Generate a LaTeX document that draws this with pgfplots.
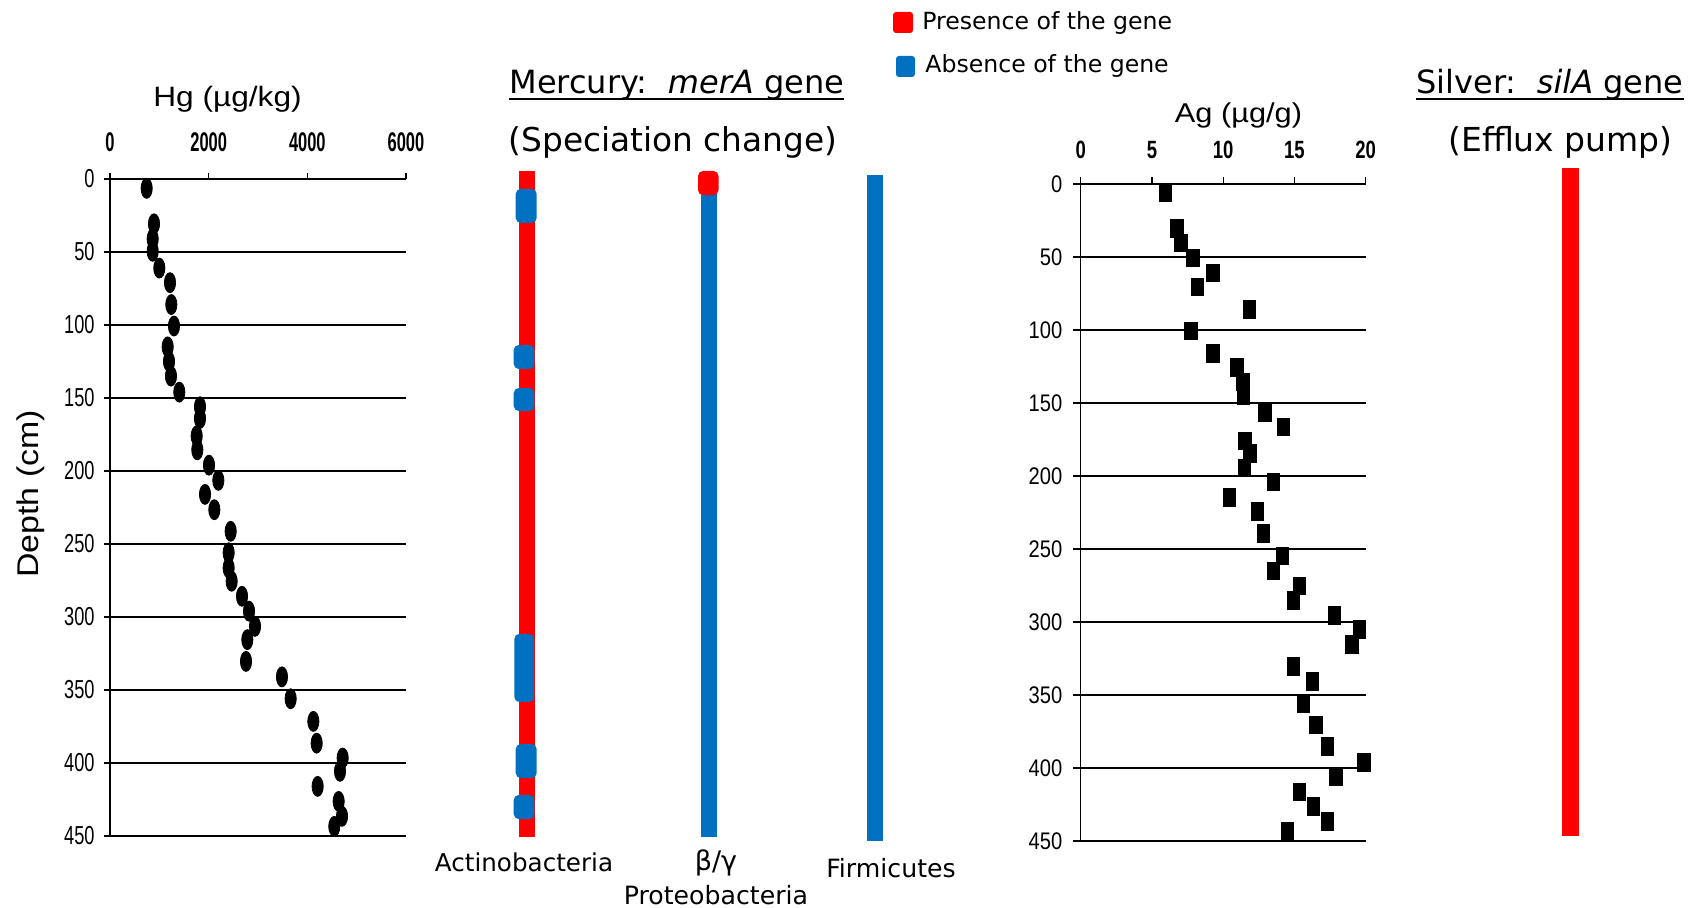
\documentclass[border=0pt]{standalone}
\usepackage{pgfplots}
\pgfplotsset{compat=1.18}
\usepackage{fontspec}
\setmainfont{DejaVu Sans}
\newfontfamily\tah{DejaVu Sans}
\newfontfamily\arialW{Liberation Sans}[FakeStretch=1.13]
\newfontfamily\hgy{Liberation Sans}[FakeStretch=0.7]
\newfontfamily\hgx{Liberation Sans}[FakeStretch=0.61]
\newfontfamily\agx{Liberation Sans}[FakeStretch=0.74]
\newfontfamily\agy{Liberation Sans}[FakeStretch=0.84]
\definecolor{gred}{RGB}{255,0,0}
\definecolor{gblue}{RGB}{0,112,192}
\newcommand{\fs}[1]{\fontsize{#1}{#1}\selectfont}
\begin{document}
\begin{tikzpicture}
\begin{scope}[x=0.5pt,y=-0.5pt]
\useasboundingbox (0,0) rectangle (1690,908);
\end{scope}

% ---------------- Hg profile ----------------
\begin{axis}[
  at={(55pt,-89.5pt)}, anchor=north west,
  scale only axis, width=148pt, height=328.5pt,
  xmin=0, xmax=6000, ymin=0, ymax=450, y dir=reverse,
  axis x line=top, axis y line=left,
  axis line style={-, line width=0.7pt, black},
  xtick={0,2000,4000,6000}, ytick={0,50,...,450},
  tick align=outside, major tick length=3pt,
  tick style={line width=0.7pt, black},
  ymajorgrids, grid style={line width=0.65pt, black},
  scaled x ticks=false,
  /pgf/number format/assume math mode=true,
  /pgf/number format/set thousands separator={},
  xticklabel style={font=\hgx\bfseries\fs{13.5pt}, anchor=center, inner sep=0pt},
  xticklabel shift=15.25pt,
  yticklabel style={font=\hgy\fs{13pt}, anchor=east, inner sep=0pt},
  yticklabel shift=4.5pt,
]
\addplot[only marks, mark=*, mark size=5pt, mark options={xscale=0.56, fill=black, draw=black}] coordinates {
(743,6.4) (892,30.7) (865,41) (865,49.5) (1000,61) (1216,71) (1243,86) (1297,100.7)
(1169,115) (1196,125) (1236,135) (1405,146) (1824,156) (1824,164) (1757,176) (1770,185.5)
(2007,196) (2196,206.4) (1926,216) (2115,226.5) (2446,241.3) (2405,256) (2405,266.4)
(2466,275.5) (2676,285.8) (2818,296) (2939,306.4) (2784,315.5) (2757,330.4) (3486,341)
(3662,356) (4122,371.5) (4189,386.4) (4716,396.6) (4662,405.7) (4209,416) (4635,426.3)
(4703,436.5) (4547,443.4)};
\end{axis}

% ---------------- Ag profile ----------------
\begin{axis}[
  at={(540.35pt,-92pt)}, anchor=north west,
  scale only axis, width=142.5pt, height=328.5pt,
  xmin=0, xmax=20, ymin=0, ymax=450, y dir=reverse,
  axis x line=top, axis y line=left,
  axis line style={-, line width=0.7pt, black},
  xtick={0,5,10,15,20}, ytick={0,50,...,450},
  tick align=outside, major tick length=3.75pt,
  tick style={line width=0.7pt, black},
  ymajorgrids, grid style={line width=0.65pt, black},
  /pgf/number format/assume math mode=true,
  xticklabel style={font=\agx\bfseries\fs{12.5pt}, anchor=center, inner sep=0pt},
  xticklabel shift=13.3pt,
  yticklabel style={font=\agy\fs{12pt}, anchor=east, inner sep=0pt},
  yticklabel shift=5.25pt,
]
\addplot[only marks, mark=square*, mark size=4.4pt, mark options={xscale=0.71, fill=black, draw=black}] coordinates {
(5.94,5.7) (6.74,30.5) (7.02,40.4) (7.86,50.7) (9.26,61) (8.19,70.6) (11.84,86) (7.72,100.5)
(9.26,116) (10.95,125.7) (11.37,135.6) (11.42,145.2) (12.94,156.6) (14.22,166.5) (11.53,176)
(11.88,184.5) (11.49,194.5) (13.52,204) (10.43,214.7) (12.4,224.3) (12.82,239.2) (14.15,254.6)
(13.52,265) (15.35,275.2) (14.92,285) (17.8,295.4) (19.56,305) (19.04,315.4) (14.92,330.5)
(16.26,340.8) (15.63,356.2) (16.5,370.6) (17.3,385.3) (19.88,396.3) (17.92,406) (15.35,416.3)
(16.33,426.1) (17.3,436.5) (14.5,443.3)};
\end{axis}

% ---------------- gene bars ----------------
\begin{axis}[
  at={(0pt,-89.5pt)}, anchor=north west,
  scale only axis, width=845pt, height=328.5pt,
  xmin=0, xmax=1690, ymin=0, ymax=450, y dir=reverse,
  hide axis, clip=false,
]
% Actinobacteria
\addplot[fill=gred, draw=none] coordinates {(519,-5.5) (535,-5.5) (535,450.7) (519,450.7)} -- cycle;
\addplot[fill=gblue, draw=none, rounded corners=2.5pt] coordinates {(515.7,6.8) (536.7,6.8) (536.7,30.1) (515.7,30.1)} -- cycle;
\addplot[fill=gblue, draw=none, rounded corners=2.5pt] coordinates {(513.7,113.7) (534.3,113.7) (534.3,130.1) (513.7,130.1)} -- cycle;
\addplot[fill=gblue, draw=none, rounded corners=2.5pt] coordinates {(513.7,143.2) (534.3,143.2) (534.3,158.9) (513.7,158.9)} -- cycle;
\addplot[fill=gblue, draw=none, rounded corners=2.5pt] coordinates {(514.3,311.6) (534,311.6) (534,358.2) (514.3,358.2)} -- cycle;
\addplot[fill=gblue, draw=none, rounded corners=2.5pt] coordinates {(515.7,387) (536.7,387) (536.7,410.3) (515.7,410.3)} -- cycle;
\addplot[fill=gblue, draw=none, rounded corners=2.5pt] coordinates {(513.7,421.9) (534.3,421.9) (534.3,438.4) (513.7,438.4)} -- cycle;
% beta/gamma Proteobacteria
\addplot[fill=gblue, draw=none] coordinates {(701,0) (717,0) (717,450.7) (701,450.7)} -- cycle;
\addplot[fill=gred, draw=none, rounded corners=2.5pt] coordinates {(698,-5.5) (718.5,-5.5) (718.5,11) (698,11)} -- cycle;
% Firmicutes
\addplot[fill=gblue, draw=none] coordinates {(867,-2.7) (883,-2.7) (883,453.4) (867,453.4)} -- cycle;
% silA
\addplot[fill=gred, draw=none] coordinates {(1562,-7.5) (1579,-7.5) (1579,450) (1562,450)} -- cycle;
\end{axis}

% ---------------- texts ----------------
\begin{scope}[x=0.5pt,y=-0.5pt]
% legend
\fill[gred, rounded corners=1.5pt] (893,12) rectangle (913,33);
\fill[gblue, rounded corners=1.5pt] (896,56) rectangle (915,77);
\node[anchor=base west, inner sep=0, font=\tah\fs{11.8pt}] at (922,29.3) {Presence of the gene};
\node[anchor=base west, inner sep=0, font=\tah\fs{11.8pt}] at (925,72.7) {Absence of the gene};
% titles
\node[anchor=base west, inner sep=0, font=\tah\fs{16pt}] (mer) at (509,93.3) {Mercury:\ \ \textit{merA} gene};
\draw[line width=1.15pt] ([yshift=-2.85pt]mer.base west) -- ([yshift=-2.85pt]mer.base east);
\node[anchor=base, inner sep=0, font=\tah\fs{16.4pt}] at (673,151.7) {(Speciation change)};
\node[anchor=base west, inner sep=0, font=\tah\fs{16pt}] (sil) at (1416,93.3) {Silver:\ \ \textit{silA} gene};
\draw[line width=1.15pt] ([yshift=-2.85pt]sil.base west) -- ([yshift=-2.85pt]sil.base east);
\node[anchor=base, inner sep=0, font=\tah\fs{16.5pt}] at (1560.5,151.7) {(Efflux pump)};
% axis titles
\node[anchor=base, inner sep=0, font=\arialW\fs{14pt}] at (227.5,106.7) {Hg (µg/kg)};
\node[anchor=base, inner sep=0, font=\arialW\fs{13.6pt}] at (1238.5,122.7) {Ag (µg/g)};
\node[anchor=base, inner sep=0, rotate=90, font=\arialW\fs{15pt}] at (38.3,494) {Depth (cm)};
% categories
\node[anchor=base, inner sep=0, font=\tah\fs{12.3pt}] at (524,871.7) {Actinobacteria};
\node[anchor=base, inner sep=0, font=\tah\fs{13.5pt}] at (716,870) {β/γ};
\node[anchor=base, inner sep=0, font=\tah\fs{12.6pt}] at (716,904) {Proteobacteria};
\node[anchor=base, inner sep=0, font=\tah\fs{12.6pt}] at (891,877.7) {Firmicutes};
\end{scope}
\end{tikzpicture}
\end{document}
